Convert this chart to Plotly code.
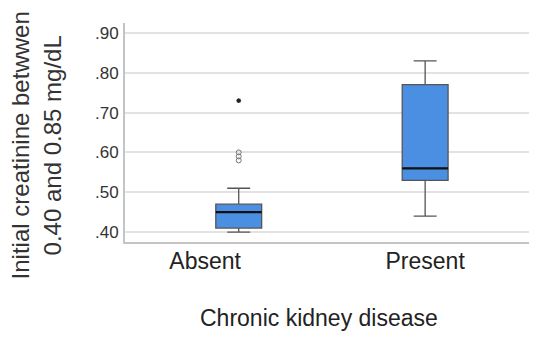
import plotly.graph_objects as go

# ---- data ----
categories = ["Absent", "Present"]
box_pos = [0, 1]
q1 = [0.41, 0.53]
median = [0.45, 0.56]
q3 = [0.47, 0.77]
lower_whisker = [0.40, 0.44]
upper_whisker = [0.51, 0.83]
outliers_absent = [0.58, 0.59, 0.60]
extremes_absent = [0.73]
y_ticks = [0.40, 0.50, 0.60, 0.70, 0.80, 0.90]
y_ticktext = [".40", ".50", ".60", ".70", ".80", ".90"]
label_pos = [-0.18, 1.0]

FONT = "Liberation Sans, Arial, sans-serif"
BOX_W = 0.246

fig = go.Figure()
fig.add_trace(go.Box(
    x=box_pos, q1=q1, median=median, q3=q3,
    lowerfence=lower_whisker, upperfence=upper_whisker,
    width=BOX_W, whiskerwidth=0.5,
    fillcolor="#4a8fe2", line=dict(color="#555555", width=1.3),
    boxpoints=False, showlegend=False, hoverinfo="skip",
))
fig.add_trace(go.Scatter(
    x=[box_pos[0]] * len(outliers_absent), y=outliers_absent, mode="markers",
    marker=dict(symbol="circle-open", size=5, color="#777777", line=dict(width=1)),
    showlegend=False,
))
fig.add_trace(go.Scatter(
    x=[box_pos[0]] * len(extremes_absent), y=extremes_absent, mode="markers",
    marker=dict(symbol="asterisk-open", size=4, color="#222222", line=dict(width=1.2)),
    showlegend=False,
))

# black median lines over the boxes
for xp, m in zip(box_pos, median):
    fig.add_shape(type="line", x0=xp - BOX_W / 2, x1=xp + BOX_W / 2, y0=m, y1=m,
                  xref="x", yref="y", line=dict(color="#111111", width=2.2))

fig.update_layout(
    width=529, height=329,
    margin=dict(l=117, r=0, t=15, b=95),
    paper_bgcolor="white", plot_bgcolor="white",
    font=dict(family=FONT, color="#222222"),
    xaxis=dict(
        range=[-0.61, 1.6], tickvals=label_pos, ticktext=categories,
        showgrid=False, zeroline=False, showline=True, linecolor="#c4c4c4", linewidth=2,
        ticks="", tickfont=dict(size=23, color="#222222"), ticklabelstandoff=-3,
    ),
    yaxis=dict(
        range=[0.375, 0.925], tickvals=y_ticks, ticktext=y_ticktext,
        showgrid=True, gridcolor="#e2e2e2", gridwidth=1.5, zeroline=False,
        showline=True, linecolor="#c4c4c4", linewidth=2,
        ticks="", tickfont=dict(size=17, color="#333333"), ticklabelstandoff=1,
    ),
    annotations=[
        dict(text="Chronic kidney disease", xref="paper", yref="paper",
             x=0.471, y=-0.347, xanchor="center", yanchor="middle", showarrow=False,
             font=dict(size=23, color="#222222")),
        dict(text="Initial creatinine betwwen<br>0.40 and 0.85 mg/dL", xref="paper", yref="paper",
             x=-0.215, y=0.443, xanchor="center", yanchor="middle", textangle=-90,
             showarrow=False, font=dict(size=24, color="#333333")),
    ],
)

fig.write_html("out.html")
